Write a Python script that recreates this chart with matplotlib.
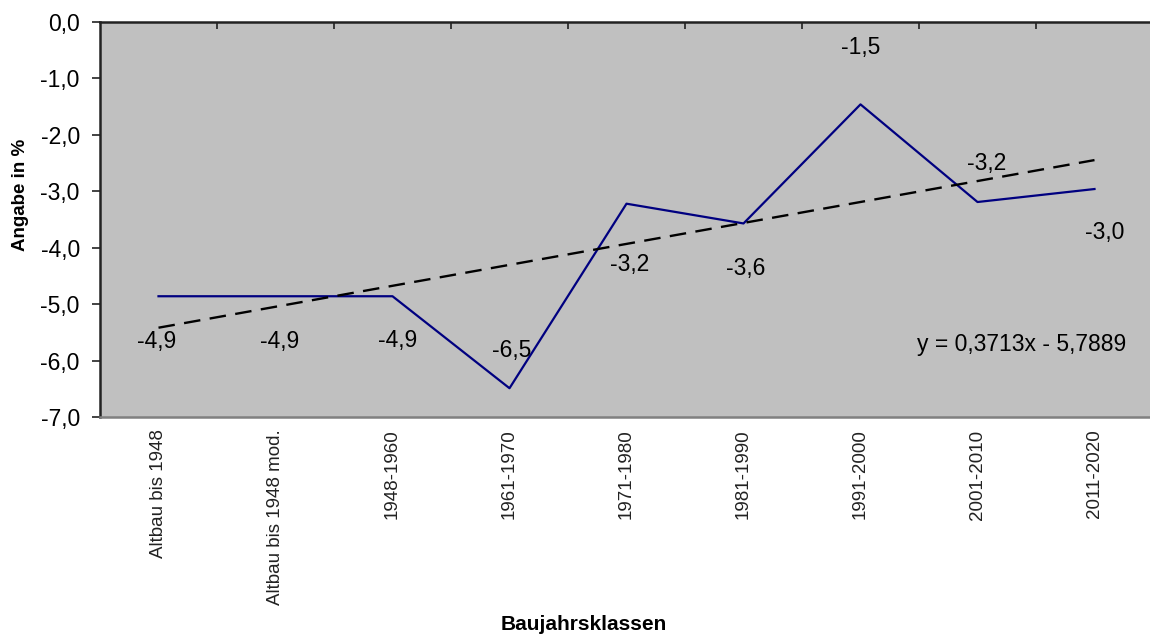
import matplotlib
matplotlib.use("Agg")
import matplotlib.pyplot as plt
from matplotlib.ticker import FixedLocator

plt.rcParams['font.family'] = ['Liberation Sans', 'DejaVu Sans']

categories = ["Altbau bis 1948", "Altbau bis 1948 mod.", "1948-1960", "1961-1970",
              "1971-1980", "1981-1990", "1991-2000", "2001-2010", "2011-2020"]
values = [-4.86, -4.86, -4.86, -6.49, -3.22, -3.57, -1.46, -3.19, -2.96]
trend_slope = 0.3713
trend_intercept = -5.7889
y_ticks = [0, -1, -2, -3, -4, -5, -6, -7]

# label offsets in pixels (dx, dy; positive dy = below the point)
label_offsets = [(-2, 45), (4, 45), (5, 44), (2, -38), (3, 61), (2, 45), (0, -57), (9, -39), (10, 43)]


def fmt(v):
    return f"{v:.1f}".replace('.', ',')


W, H = 1150, 639
fig = plt.figure(figsize=(W / 100, H / 100), dpi=100)
ax = fig.add_axes([100 / W, 1 - 417 / H, 1053 / W, 395 / H])
ax.set_facecolor('#C0C0C0')

x = list(range(1, len(categories) + 1))
ax.plot(x, values, color='#000080', lw=1.6, zorder=3)

trend = [trend_slope * xi + trend_intercept for xi in x]
ax.plot(x, trend, color='black', lw=1.7, dashes=(7, 4), zorder=4)

for xi, v, (dx, dy) in zip(x, values, label_offsets):
    ax.annotate(fmt(v), (xi, v), xytext=(dx * 0.72, -dy * 0.72), textcoords='offset points',
                ha='center', va='center', fontsize=16.5, color='black', zorder=5)

ax.text(1022 / W, 1 - 344 / H,
        f"y = {trend_slope:.4f}x - {abs(trend_intercept):.4f}".replace('.', ','),
        transform=fig.transFigure, ha='center', va='center', fontsize=16.5, color='black')

ax.set_xlim(0.5, len(categories) + 0.5)
ax.set_ylim(-7, 0)
ax.set_yticks(y_ticks)
ax.set_yticklabels([fmt(t) for t in y_ticks], fontsize=16.5)
ax.tick_params(axis='y', direction='out', length=5.5, width=1.2, pad=9, color='#222222')

ax.set_xticks(x)
ax.set_xticklabels(categories, rotation=90, fontsize=13.5, color='#222222', va='top')
ax.tick_params(axis='x', which='major', length=0, pad=9)
ax.xaxis.set_minor_locator(FixedLocator([i + 0.5 for i in range(1, len(categories))]))
ax.tick_params(axis='x', which='minor', top=True, bottom=False, direction='in',
               length=5, width=1.2, color='#222222')

for side in ['left', 'top']:
    ax.spines[side].set_color('#222222')
    ax.spines[side].set_linewidth(1.8)
ax.spines['bottom'].set_color('#808080')
ax.spines['bottom'].set_linewidth(1.8)
ax.spines['right'].set_visible(False)

fig.text(21 / W, 1 - 195 / H, "Angabe in %", rotation=90, ha='center', va='center',
         fontsize=13.5, fontweight='bold')
fig.text(584 / W, 1 - 625 / H, "Baujahrsklassen", ha='center', va='center',
         fontsize=15, fontweight='bold')

fig.savefig('out.png', dpi=100, facecolor='white')
